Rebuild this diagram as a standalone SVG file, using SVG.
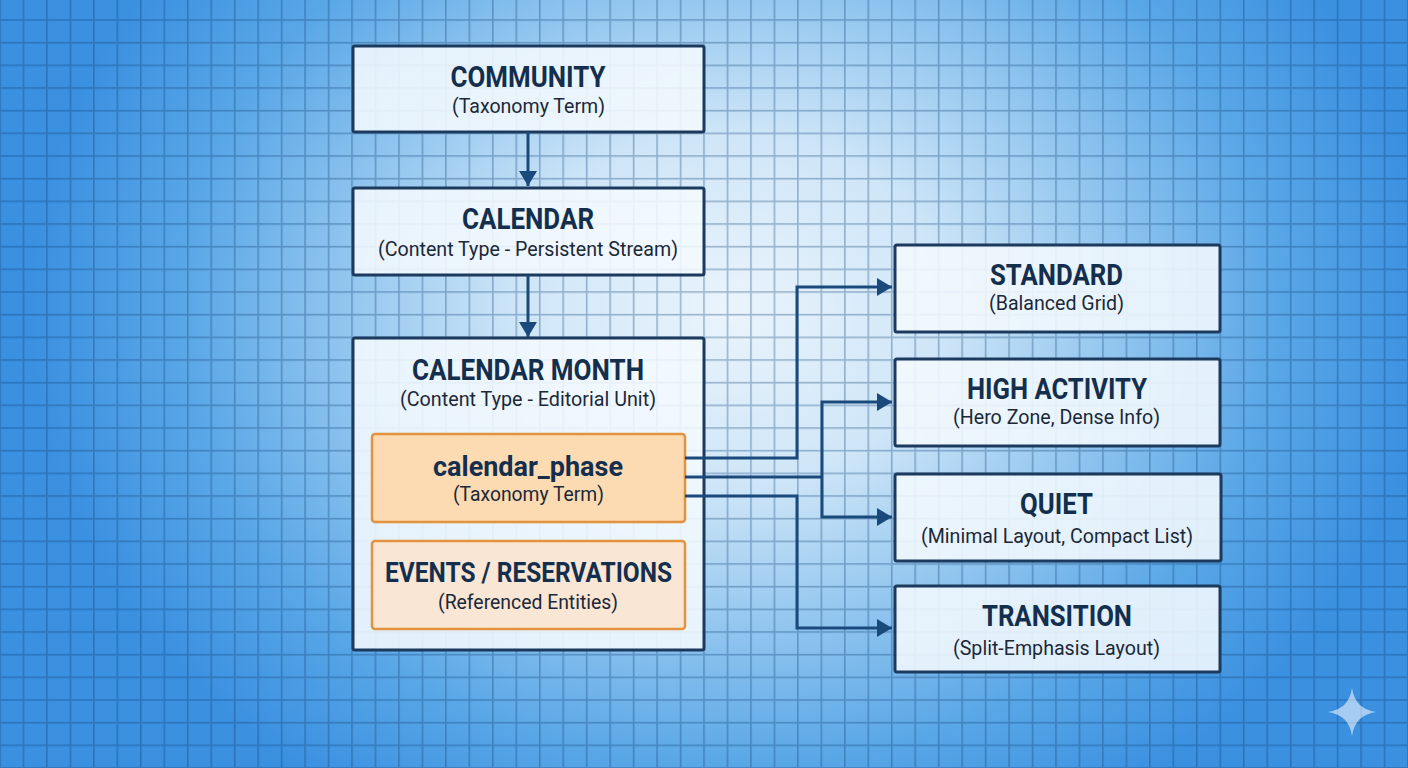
<svg xmlns="http://www.w3.org/2000/svg" width="1408" height="768" viewBox="0 0 1408 768">
<defs>
<radialGradient id="bg" gradientUnits="userSpaceOnUse" cx="0" cy="0" r="1" gradientTransform="translate(730 310) scale(700 580)">
<stop offset="0" stop-color="#eaf4fc"/>
<stop offset="0.3" stop-color="#cfe6f8"/>
<stop offset="0.55" stop-color="#92c6ef"/>
<stop offset="0.78" stop-color="#5aa7e7"/>
<stop offset="1" stop-color="#3b90e0"/>
</radialGradient>
<pattern id="grid" patternUnits="userSpaceOnUse" x="-0.8" y="19.2" width="23.4667" height="22.6667">
<rect x="0" y="0" width="23.4667" height="1.6" fill="#0d3f73" fill-opacity="0.34"/>
<rect x="0" y="1.6" width="1.6" height="21.0667" fill="#0d3f73" fill-opacity="0.34"/>
</pattern>
<marker id="arr" markerUnits="userSpaceOnUse" markerWidth="16" markerHeight="18" refX="15" refY="9" orient="auto" viewBox="0 0 16 18">
<path d="M0,0 L15,9 L0,18 Z" fill="#1a4a7c"/>
</marker>
<style>
.box{fill:#f4f9fe;fill-opacity:0.88;stroke:#1c3a5e;stroke-width:3}
.obox{stroke:#e3923f;stroke-width:2.5}
.t{font-family:Roboto,"Liberation Sans",sans-serif;font-weight:700;font-size:30px;fill:#142f4e;text-anchor:middle}
.s{font-family:Roboto,"Liberation Sans",sans-serif;font-weight:400;font-size:21px;fill:#1b2838;text-anchor:middle}
.c{fill:none;stroke:#1a4a7c;stroke-width:3}
</style>
</defs>
<rect width="1408" height="768" fill="url(#bg)"/>
<rect width="1408" height="768" fill="url(#grid)"/>

<g id="community">
<rect class="box" x="353" y="46" width="351" height="86" rx="2"/>
<text class="t" x="528" y="86.5" textLength="155" lengthAdjust="spacingAndGlyphs">COMMUNITY</text>
<text class="s" x="528.5" y="113" textLength="153" lengthAdjust="spacingAndGlyphs">(Taxonomy Term)</text>
</g>
<g id="calendar">
<rect class="box" x="353" y="188" width="351" height="87" rx="2"/>
<text class="t" x="528" y="229" textLength="132" lengthAdjust="spacingAndGlyphs">CALENDAR</text>
<text class="s" x="528" y="256" textLength="300" lengthAdjust="spacingAndGlyphs">(Content Type - Persistent Stream)</text>
</g>
<g id="calendar-month">
<rect class="box" x="353" y="338" width="351" height="312" rx="2"/>
<text class="t" x="528" y="380" textLength="232" lengthAdjust="spacingAndGlyphs">CALENDAR MONTH</text>
<text class="s" x="528" y="406" textLength="256" lengthAdjust="spacingAndGlyphs">(Content Type - Editorial Unit)</text>
</g>
<g id="calendar-phase">
<rect class="obox" x="372" y="434" width="313" height="88" rx="3" fill="#fcdab2"/>
<text class="t" x="528" y="476" style="font-size:28px" textLength="190" lengthAdjust="spacingAndGlyphs">calendar_phase</text>
<text class="s" x="528.5" y="501" textLength="151" lengthAdjust="spacingAndGlyphs">(Taxonomy Term)</text>
</g>
<g id="events">
<rect class="obox" x="372" y="541" width="313" height="88" rx="3" fill="#f9e6d4"/>
<text class="t" x="528.5" y="582" style="font-size:27px" textLength="287" lengthAdjust="spacingAndGlyphs">EVENTS / RESERVATIONS</text>
<text class="s" x="528" y="609" textLength="180" lengthAdjust="spacingAndGlyphs">(Referenced Entities)</text>
</g>
<g id="standard">
<rect class="box" x="895" y="245" width="325" height="87" rx="2"/>
<text class="t" x="1056.5" y="285" textLength="133" lengthAdjust="spacingAndGlyphs">STANDARD</text>
<text class="s" x="1056.5" y="310" textLength="135" lengthAdjust="spacingAndGlyphs">(Balanced Grid)</text>
</g>
<g id="high-activity">
<rect class="box" x="895" y="359" width="325" height="87" rx="2"/>
<text class="t" x="1057" y="399" textLength="180" lengthAdjust="spacingAndGlyphs">HIGH ACTIVITY</text>
<text class="s" x="1056.5" y="424" textLength="207" lengthAdjust="spacingAndGlyphs">(Hero Zone, Dense Info)</text>
</g>
<g id="quiet">
<rect class="box" x="895" y="474" width="326" height="87" rx="2"/>
<text class="t" x="1056.5" y="514" textLength="73" lengthAdjust="spacingAndGlyphs">QUIET</text>
<text class="s" x="1057" y="543" textLength="272" lengthAdjust="spacingAndGlyphs">(Minimal Layout, Compact List)</text>
</g>
<g id="transition">
<rect class="box" x="895" y="586" width="325" height="86" rx="2"/>
<text class="t" x="1057" y="626" textLength="150" lengthAdjust="spacingAndGlyphs">TRANSITION</text>
<text class="s" x="1056.5" y="655" textLength="207" lengthAdjust="spacingAndGlyphs">(Split-Emphasis Layout)</text>
</g>

<g id="connectors">
<path class="c" d="M528,132 V186" marker-end="url(#arr)"/>
<path class="c" d="M528,275 V337" marker-end="url(#arr)"/>
<path class="c" d="M685,458 H797 V287 H892" marker-end="url(#arr)"/>
<path class="c" d="M685,477 H822"/>
<path class="c" d="M822,477 V402 H892" marker-end="url(#arr)"/>
<path class="c" d="M822,477 V517 H892" marker-end="url(#arr)"/>
<path class="c" d="M685,496 H797 V628 H892" marker-end="url(#arr)"/>
</g>

<path d="M1352,688 Q1355,709 1376,712 Q1355,715 1352,736 Q1349,715 1328,712 Q1349,709 1352,688 Z" fill="#ffffff" fill-opacity="0.55"/>
</svg>
